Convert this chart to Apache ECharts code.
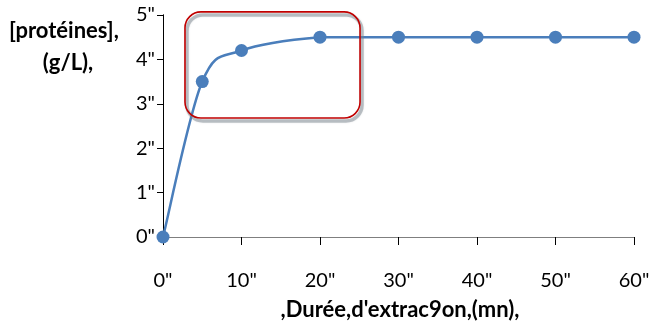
<!DOCTYPE html>
<html>
<head>
<meta charset="utf-8">
<script src="https://cdn.jsdelivr.net/npm/echarts@6/dist/echarts.min.js"></script>
<style>
  html, body { margin: 0; padding: 0; background: #fff; }
  #chart { width: 656px; height: 329px; }
</style>
</head>
<body>
<div id="chart"></div>
<script>
// Extraction time (mn) and protein concentration (g/L)
const durations = [0, 5, 10, 20, 30, 40, 50, 60];
const proteins = [0, 3.5, 4.2, 4.5, 4.5, 4.5, 4.5, 4.5];
const xTitle = ",Durée,d'extrac9on,(mn),";
const yTitleLines = ["[protéines],", "(g/L),"];
// Highlighted plateau region, in data units
const zoneX = [2.8, 25.1];
const zoneY = [2.68, 5.07];

const FONT = 'Lato, "Open Sans", sans-serif';
const LINE_COLOR = '#4a7ebb';
const chart = echarts.init(document.getElementById('chart'), null, { renderer: 'canvas' });

const fmt = v => v + '"';
const points = durations.map((d, i) => [d, proteins[i]]);

// Smoothed segment between point i-1 and i (cardinal spline, control
// points kept within the segment's vertical range so flat runs stay flat)
function renderSegment(params, api) {
  const i = params.dataIndex;
  if (i === 0) return null;
  const n = points.length;
  const P = k => api.coord(points[Math.max(0, Math.min(n - 1, k))]);
  const p0 = P(i - 2), p1 = P(i - 1), p2 = P(i), p3 = P(i + 1);
  const lo = Math.min(p1[1], p2[1]), hi = Math.max(p1[1], p2[1]);
  const clampY = y => Math.max(lo, Math.min(hi, y));
  const t = 1 / 6;
  return {
    type: 'bezierCurve',
    shape: {
      x1: p1[0], y1: p1[1], x2: p2[0], y2: p2[1],
      cpx1: p1[0] + (p2[0] - p0[0]) * t, cpy1: clampY(p1[1] + (p2[1] - p0[1]) * t),
      cpx2: p2[0] - (p3[0] - p1[0]) * t, cpy2: clampY(p2[1] - (p3[1] - p1[1]) * t)
    },
    style: { stroke: LINE_COLOR, lineWidth: 2.5, fill: null, lineCap: 'round' }
  };
}

const titles = [
  { type: 'text', style: { text: yTitleLines[0], x: 64, y: 31, align: 'center', verticalAlign: 'middle', font: 'bold 22px ' + FONT, fill: '#000' } },
  { type: 'text', style: { text: yTitleLines[1], x: 68, y: 63, align: 'center', verticalAlign: 'middle', font: 'bold 22px ' + FONT, fill: '#000' } },
  { type: 'text', style: { text: xTitle, x: 400, y: 310, align: 'center', verticalAlign: 'middle', font: 'bold 22px ' + FONT, fill: '#000' } }
];

chart.setOption({
  animation: false,
  grid: { left: 163, right: 22, top: 15, bottom: 92 },
  xAxis: [{
    type: 'value', min: 0, max: 60, interval: 10,
    axisLine: { show: true, onZero: false, lineStyle: { color: '#7f7f7f', width: 1.2 } },
    axisTick: { show: true, length: 8, lineStyle: { color: '#000' } },
    axisLabel: { margin: 34, fontFamily: FONT, fontSize: 20, color: '#000', formatter: fmt },
    splitLine: { show: false }
  }, {
    type: 'value', min: 0, max: 60, position: 'top',
    axisLine: { show: true, lineStyle: { color: '#7f7f7f', width: 1.2 } },
    axisTick: { show: false }, axisLabel: { show: false }, splitLine: { show: false }
  }],
  yAxis: [{
    type: 'value', min: 0, max: 5, interval: 1,
    axisLine: { show: true, onZero: false, lineStyle: { color: '#000', width: 1 } },
    axisTick: { show: true, length: 6, lineStyle: { color: '#000' } },
    axisLabel: { margin: 8, fontFamily: FONT, fontSize: 20, color: '#000', formatter: fmt },
    splitLine: { show: false }
  }, {
    type: 'value', min: 0, max: 5, position: 'right',
    axisLine: { show: true, lineStyle: { color: '#000', width: 1 } },
    axisTick: { show: false }, axisLabel: { show: false }, splitLine: { show: false }
  }],
  series: [{
    type: 'custom',
    data: points,
    encode: { x: 0, y: 1 },
    renderItem: renderSegment,
    z: 3
  }, {
    type: 'scatter',
    data: points,
    symbol: 'circle',
    symbolSize: 13,
    itemStyle: { color: LINE_COLOR, opacity: 1 },
    z: 4
  }],
  graphic: titles
});

// Rounded highlight box around the plateau, placed from data coordinates
const c0 = chart.convertToPixel({ gridIndex: 0 }, [zoneX[0], zoneY[1]]);
const c1 = chart.convertToPixel({ gridIndex: 0 }, [zoneX[1], zoneY[0]]);
const shape = { x: c0[0], y: c0[1], width: c1[0] - c0[0], height: c1[1] - c0[1], r: 16 };
chart.setOption({
  graphic: titles.concat([
    {
      type: 'rect', z: 10, silent: true,
      shape: Object.assign({}, shape, { x: shape.x + 2, y: shape.y + 3 }),
      style: { fill: 'none', stroke: 'rgba(120,130,140,0.45)', lineWidth: 3.5, shadowBlur: 2, shadowColor: 'rgba(120,130,140,0.4)' }
    },
    {
      type: 'rect', z: 11, silent: true,
      shape: shape,
      style: { fill: 'none', stroke: '#c00000', lineWidth: 1.6 }
    }
  ])
}, { replaceMerge: ['graphic'] });
</script>
</body>
</html>
